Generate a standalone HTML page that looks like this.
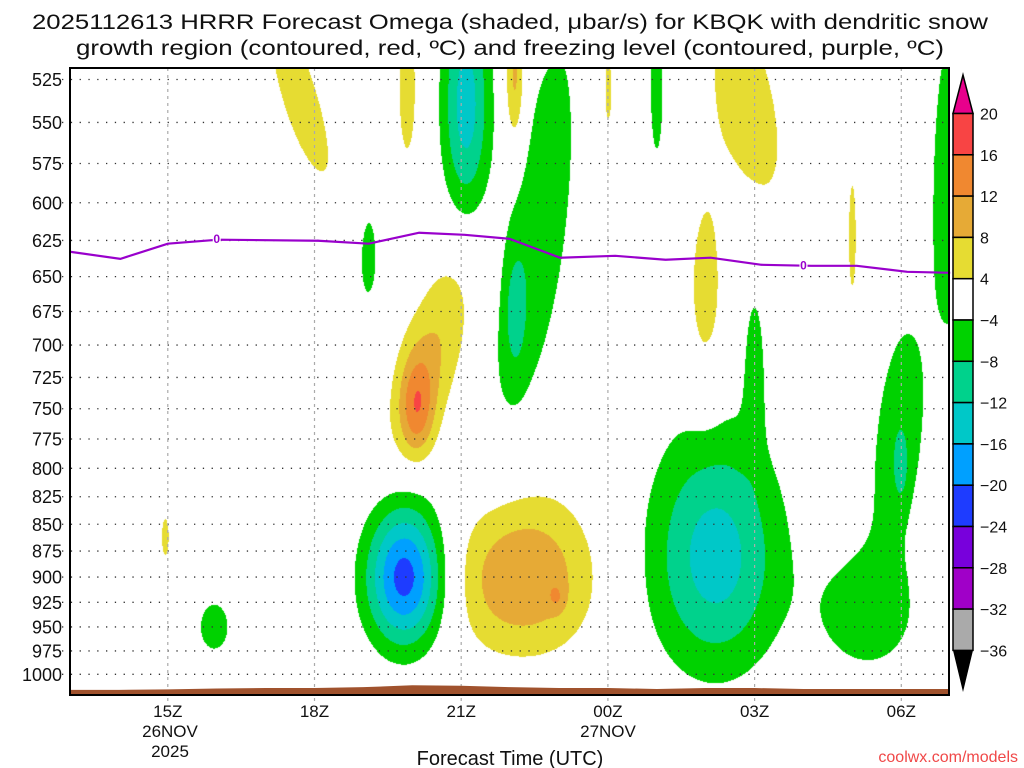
<!DOCTYPE html>
<html><head><meta charset="utf-8"><style>
html,body{margin:0;padding:0;background:#fff;width:1024px;height:768px;overflow:hidden}
#wrap{position:relative;width:1024px;height:768px}
canvas{position:absolute;left:70px;top:68px}
svg{position:absolute;left:0;top:0}
text{font-family:"Liberation Sans",sans-serif;fill:#111}
</style></head><body>
<div id="wrap">
<canvas id="cv" width="879" height="627"></canvas>
<svg id="sv" width="1024" height="768"></svg>
</div>
<script>
// Omega blobs (time hours since 13Z, pressure hPa, amplitude ubar/s, sigma t, sigma p, tilt h/100hPa)
const blobT   =[4.7,6.9,8.1,9.1,11.0,12.0,13.85,9.5,9.1,6.1,7.4,7.1,13.0,16.0,18.0,13.2,14.0,16.95,17.0,16.3,6.85,8.7,9.8,9.95,1.95,2.95];
const blobP   =[535,530,540,525,530,530,540,630,676,636,710,750,665,623,590,880,715,775,800,935,900,900,900,920,862,950];
const blobA   =[6,5.5,-14,10,5,-5.5,6,-7,-5,-6,8,10,6,5,-7,-14,-6,-7,-4,-7,-22,7.5,7.5,4,5,-6];
const blobST  =[0.4,0.2,0.35,0.15,0.15,0.15,0.6,0.55,0.15,0.18,0.5,0.25,0.3,0.1,0.3,0.95,0.15,0.42,0.1,0.75,0.56,0.8,0.8,0.12,0.1,0.3];
const blobSP  =[50,45,50,30,40,45,55,110,30,30,60,30,60,50,80,82,45,78,20,45,49,55,55,10,25,25];
const blobTilt=[1.0,0,0,0,0,0,0.6,-0.4,0,0,-0.7,0,0,0,0,0,0,-0.2,0,0,0,0,0,0,0,0];
// Freezing level
const fzT=[0,1.03,2.0,3.03,5.08,6.11,7.14,8.07,8.99,10.02,11.15,12.18,13.1,14.14,15.16,16.09,17.12,18];
const fzP=[632.7,637.6,627.2,624.5,625.2,627.2,619.8,621.2,623.9,636.8,635.5,638.2,636.8,641.7,642.4,642.4,646.6,647.3];
// Surface pressure hourly
const sfcP=[1017,1017,1016.5,1015.5,1015,1015,1014,1012,1012.5,1014,1015,1015,1016,1015,1015,1016,1016,1016,1016];
const pLevels=[525,550,575,600,625,650,675,700,725,750,775,800,825,850,875,900,925,950,975,1000];
const xTickT=[2,5,8,11,14,17];
const xTickL=["15Z","18Z","21Z","00Z","03Z","06Z"];
const cbLevels=[20,16,12,8,4,-4,-8,-12,-16,-20,-24,-28,-32,-36];
const cbColors=["#f84444","#f08830","#e6aa36","#e6dc32","#ffffff","#00d200","#00d28c","#00c8c8","#00a0ff","#1e3cff","#7800dc","#a000c8","#aaaaaa"];

const X0=70,X1=949,Y0=68,Y1=695;
const xs=t=>X0+t*48.9;
const ys=p=>79.5+Math.log(p/525)/Math.log(1000/525)*(674.3-79.5);
const tInv=x=>(x-X0)/48.9;
const pInv=y=>525*Math.exp((y-79.5)/(674.3-79.5)*Math.log(1000/525));
function colorFor(v){
  if(v>=20) return "#e8008c";
  if(v>=16) return "#f84444";
  if(v>=12) return "#f08830";
  if(v>=8) return "#e6aa36";
  if(v>=4) return "#e6dc32";
  if(v>-4) return null;
  if(v>-8) return "#00d200";
  if(v>-12) return "#00d28c";
  if(v>-16) return "#00c8c8";
  if(v>-20) return "#00a0ff";
  if(v>-24) return "#1e3cff";
  if(v>-28) return "#7800dc";
  if(v>-32) return "#a000c8";
  if(v>-36) return "#aaaaaa";
  return "#000";
}
function hexRGB(h){return [parseInt(h.substr(1,2),16),parseInt(h.substr(3,2),16),parseInt(h.substr(5,2),16)];}
const cv=document.getElementById('cv');const ctx=cv.getContext('2d');
const W=cv.width,H=cv.height;const img=ctx.createImageData(W,H);
for(let j=0;j<H;j++){
  const p=pInv(Y0+j+0.5);
  for(let i=0;i<W;i++){
    const t=tInv(X0+i+0.5);let v=0;
    for(let k=0;k<blobT.length;k++){
      const tc=blobT[k]+blobTilt[k]*(p-blobP[k])/100;
      const a=(t-tc)/blobST[k],b=(p-blobP[k])/blobSP[k];
      const r2=a*a+b*b; if(r2<30) v+=blobA[k]*Math.exp(-0.5*r2);
    }
    const c=colorFor(v);const o=(j*W+i)*4;
    const rgb=c?hexRGB(c):[255,255,255];
    img.data[o]=rgb[0];img.data[o+1]=rgb[1];img.data[o+2]=rgb[2];img.data[o+3]=255;
  }
}
ctx.putImageData(img,0,0);

const NS="http://www.w3.org/2000/svg";const sv=document.getElementById('sv');
function mk(tag,attrs,parent){const e=document.createElementNS(NS,tag);for(const k in attrs)e.setAttribute(k,attrs[k]);(parent||sv).appendChild(e);return e;}
// grid
pLevels.forEach(p=>{
  const l=mk('line',{x1:X0-8,x2:X1,y1:ys(p),y2:ys(p),stroke:"#333","stroke-width":1.3,"stroke-dasharray":"1.3 7.5"});
  
  
  const tx=mk('text',{x:62,y:ys(p)+6.5,"text-anchor":"end","font-size":18});
  tx.textContent=p;
  
  
});
xTickT.forEach((t,i)=>{
  const l=mk('line',{x1:xs(t),x2:xs(t),y1:Y0,y2:Y1+8,stroke:"#aaa","stroke-width":1.2,"stroke-dasharray":"3 4"});
  
  
  const tx=mk('text',{x:xs(t),y:717,"text-anchor":"middle","font-size":17});
  tx.textContent=xTickL[i];
  
  
});
// terrain
let d="M"+X0+","+Y1;
sfcP.forEach((p,i)=>{d+=" L"+Math.min(xs(i),X1)+","+ys(p);});
d+=" L"+X1+","+Y1+" Z";
const ter=mk('path',{d:d,fill:"#a0522d"});


// freezing level
let fd="";fzT.forEach((t,i)=>{fd+=(i?" L":"M")+xs(t)+","+ys(fzP[i]);});
const fz=mk('path',{d:fd,fill:"none",stroke:"#9900cc","stroke-width":2.2});


[3.0,15.0].forEach(t=>{
  const p=fzP[fzT.findIndex(v=>v>=t)];
  const r=mk('rect',{x:xs(t)-4,y:ys(p)-8,width:8,height:12,fill:"#fff"});
  
  
  const tx=mk('text',{x:xs(t),y:ys(p)+3.5,"text-anchor":"middle","font-size":12,"font-weight":"bold",style:"fill:#9900cc"});
  tx.textContent="0";
  
  
});
// frame
const fr=mk('rect',{x:X0,y:Y0,width:X1-X0,height:Y1-Y0,fill:"none",stroke:"#000","stroke-width":2});


// colorbar
const cbX=953,cbW=20,cbTop=113.5,cbH=41.3;
const tri=mk('polygon',{points:`${cbX},${cbTop} ${cbX+cbW},${cbTop} ${cbX+cbW/2},75`,fill:"#e8008c",stroke:"#000","stroke-width":1.5});


cbColors.forEach((c,i)=>{
  const r=mk('rect',{x:cbX,y:cbTop+i*cbH,width:cbW,height:cbH,fill:c,stroke:"#000","stroke-width":1.5});
  
  
});
const bot=cbTop+(cbColors.length)*cbH;
const tri2=mk('polygon',{points:`${cbX},${bot} ${cbX+cbW},${bot} ${cbX+cbW/2},692`,fill:"#000"});


cbLevels.forEach((v,i)=>{
  const tx=mk('text',{x:980,y:cbTop+i*cbH+6,"font-size":16});
  tx.textContent=(v<0?"\u2212"+(-v):String(v));
  
  
});
</script>
<svg width="1024" height="768" style="position:absolute;left:0;top:0;pointer-events:none">
<text x="32" y="29" font-size="21" textLength="956" lengthAdjust="spacingAndGlyphs">2025112613 HRRR Forecast Omega (shaded, μbar/s) for KBQK with dendritic snow</text>
<text x="76" y="55" font-size="21" textLength="868" lengthAdjust="spacingAndGlyphs">growth region (contoured, red, ºC) and freezing level (contoured, purple, ºC)</text>
<text x="170" y="737" font-size="17" text-anchor="middle">26NOV</text>
<text x="170" y="757" font-size="17" text-anchor="middle">2025</text>
<text x="608" y="737" font-size="17" text-anchor="middle">27NOV</text>
<text x="510" y="765" font-size="20" text-anchor="middle">Forecast Time (UTC)</text>
<text x="1018" y="762" font-size="16" text-anchor="end" style="fill:#f04848">coolwx.com/models</text>
</svg>
</body></html>
